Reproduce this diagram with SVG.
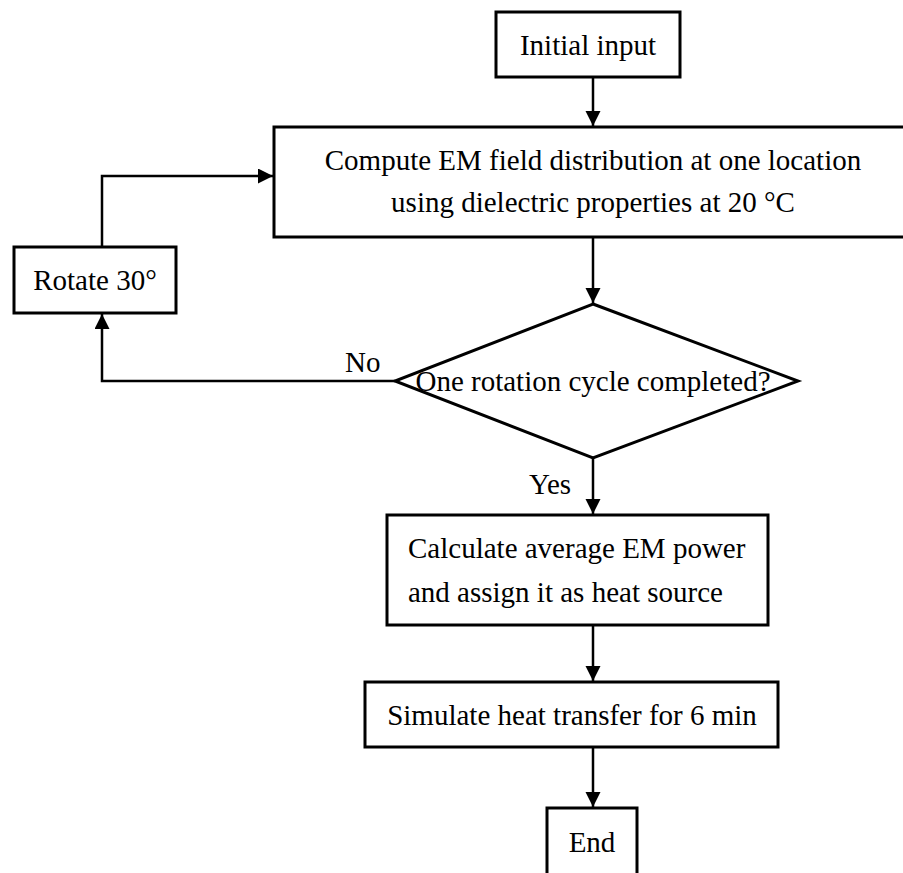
<svg xmlns="http://www.w3.org/2000/svg" width="903" height="873" viewBox="0 0 903 873">
<style>
.box{fill:#fff;stroke:#000;stroke-width:3}
.lbl{font-family:"Liberation Serif","Times New Roman",serif;font-size:29px;fill:#000}
.c{text-anchor:middle}
.conn{fill:none;stroke:#000;stroke-width:2.5}
</style>
<defs>
<marker id="arr" markerUnits="userSpaceOnUse" markerWidth="16" markerHeight="16" refX="15" refY="7.5" orient="auto">
<path d="M0,0 L15,7.5 L0,15 z" fill="#000"/>
</marker>
</defs>
<rect width="903" height="873" fill="#fff"/>
<g id="connectors">
<path class="conn" d="M593,77 L593,126" marker-end="url(#arr)"/>
<path class="conn" d="M593,237 L593,303" marker-end="url(#arr)"/>
<path class="conn" d="M593,458 L593,514" marker-end="url(#arr)"/>
<path class="conn" d="M593,625 L593,681" marker-end="url(#arr)"/>
<path class="conn" d="M593,747 L593,807" marker-end="url(#arr)"/>
<path class="conn" d="M395,381 L102,381 L102,314" marker-end="url(#arr)"/>
<path class="conn" d="M102,247 L102,176 L273,176" marker-end="url(#arr)"/>
<text class="lbl" x="345" y="372">No</text>
<text class="lbl c" x="550" y="494">Yes</text>
</g>
<g id="n-initial">
<rect class="box" x="496" y="12" width="184" height="65"/>
<text class="lbl c" x="588" y="55">Initial input</text>
</g>
<g id="n-compute">
<rect class="box" x="274" y="127" width="634" height="110"/>
<text class="lbl c" x="593" y="170">Compute EM field distribution at one location</text>
<text class="lbl c" x="593" y="212">using dielectric properties at 20 °C</text>
</g>
<g id="n-rotate">
<rect class="box" x="14" y="247" width="162" height="66"/>
<text class="lbl c" x="95" y="290">Rotate 30°</text>
</g>
<g id="n-decision">
<polygon class="box" points="593,304 798,381 593,458 395,381"/>
<text class="lbl c" x="593" y="391">One rotation cycle completed?</text>
</g>
<g id="n-calc">
<rect class="box" x="387" y="515" width="381" height="110"/>
<text class="lbl" x="408" y="558">Calculate average EM power</text>
<text class="lbl" x="408" y="602">and assign it as heat source</text>
</g>
<g id="n-simulate">
<rect class="box" x="365" y="682" width="413" height="65"/>
<text class="lbl c" x="572" y="725">Simulate heat transfer for 6 min</text>
</g>
<g id="n-end">
<rect class="box" x="547" y="808" width="90" height="80"/>
<text class="lbl c" x="592" y="852">End</text>
</g>
</svg>
